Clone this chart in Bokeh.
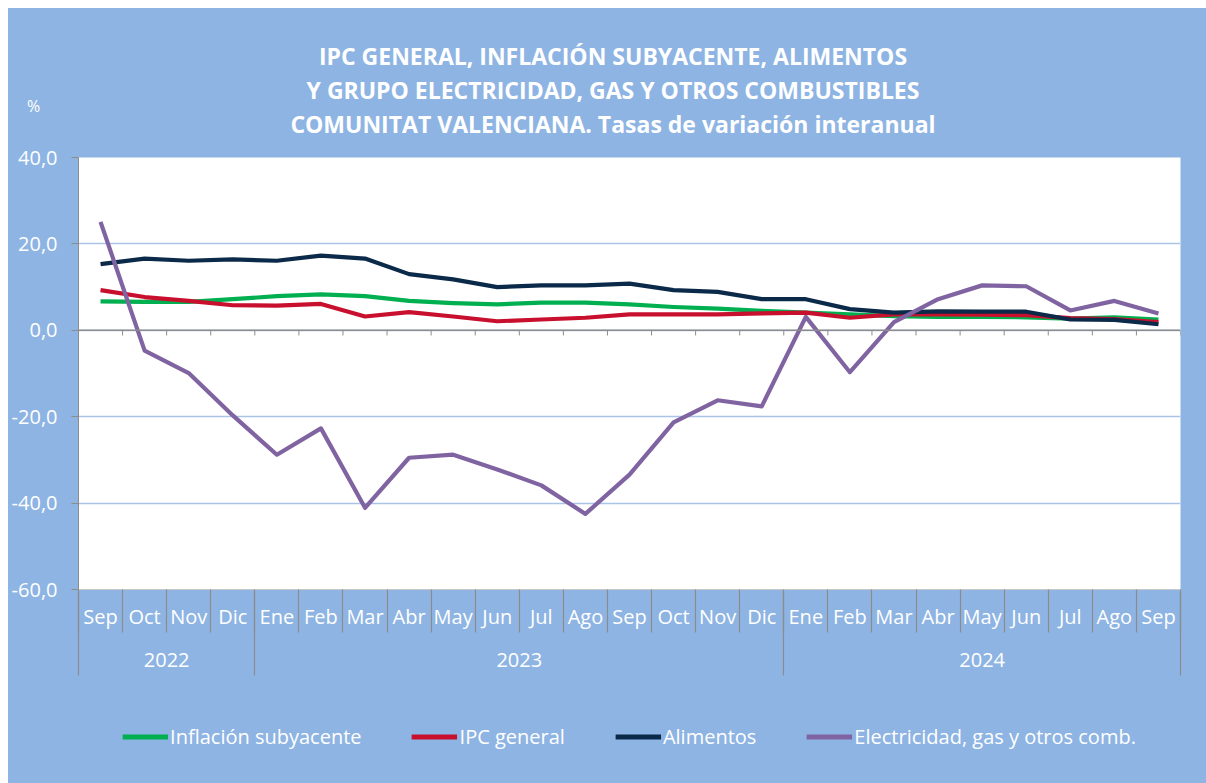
from bokeh.plotting import figure
from bokeh.layouts import column
from bokeh.models import (Range1d, LinearAxis, FixedTicker, Legend, LegendItem, Span, Div)
from bokeh.embed import file_html
from bokeh.resources import INLINE

# ---------------- data ----------------
months = ["Sep", "Oct", "Nov", "Dic", "Ene", "Feb", "Mar", "Abr", "May", "Jun", "Jul", "Ago",
          "Sep", "Oct", "Nov", "Dic", "Ene", "Feb", "Mar", "Abr", "May", "Jun", "Jul", "Ago", "Sep"]
years = ["2022"] * 4 + ["2023"] * 12 + ["2024"] * 9

subyacente = [6.7, 6.6, 6.6, 7.2, 7.9, 8.3, 7.9, 6.8, 6.3, 6.0, 6.4, 6.4,
              6.0, 5.4, 5.0, 4.5, 4.1, 3.7, 3.3, 3.1, 3.1, 3.0, 2.7, 3.0, 2.5]
ipc_general = [9.3, 7.7, 6.8, 5.8, 5.7, 6.1, 3.2, 4.2, 3.2, 2.1, 2.5, 2.9,
               3.7, 3.7, 3.7, 3.9, 4.1, 2.9, 3.7, 3.7, 3.6, 3.5, 2.8, 2.6, 1.9]
alimentos = [15.3, 16.6, 16.1, 16.4, 16.1, 17.3, 16.6, 13.0, 11.8, 10.0, 10.4, 10.4,
             10.8, 9.3, 8.9, 7.2, 7.2, 4.9, 4.1, 4.4, 4.3, 4.3, 2.5, 2.4, 1.4]
electricidad = [25.1, -4.7, -9.9, -19.7, -28.8, -22.7, -41.1, -29.5, -28.8, -32.2, -35.9, -42.5,
                -33.4, -21.3, -16.2, -17.6, 3.1, -9.7, 1.9, 7.2, 10.4, 10.2, 4.6, 6.8, 3.9]

series_names = ["Inflación subyacente", "IPC general", "Alimentos", "Electricidad, gas y otros comb."]
series_values = [subyacente, ipc_general, alimentos, electricidad]
series_colors = ["#00B050", "#C8102E", "#0B2A4A", "#8064A2"]

y_ticks = [-60, -40, -20, 0, 20, 40]
title_lines = ["IPC GENERAL, INFLACIÓN SUBYACENTE, ALIMENTOS",
               "Y GRUPO ELECTRICIDAD, GAS Y OTROS COMBUSTIBLES",
               "COMUNITAT VALENCIANA. Tasas de variación interanual"]
unit_label = "%"

# ---------------- styling ----------------
BG = "#8EB4E3"
GRID = "#A9C4E6"
AXIS_GRAY = "#8C8C8C"
FONT = "Open Sans"
W = 1198
HEADER_H = 134
MAIN_H = 539
LEG_H = 775 - HEADER_H - MAIN_H

n = len(months)
xs = list(range(n))
boundaries = [i - 0.5 for i in range(n + 1)]

# ---------------- header (title + unit) ----------------
header_html = (
    f'<div style="position:relative;width:{W}px;height:{HEADER_H}px;background:{BG};'
    f'font-family:\'{FONT}\';color:white;">'
    f'<div style="position:absolute;left:6px;top:31px;width:{W}px;text-align:center;'
    f'font-size:23px;font-weight:bold;line-height:34px;white-space:nowrap;">'
    + "<br>".join(title_lines) +
    '</div>'
    f'<div style="position:absolute;left:19px;top:89px;font-size:16px;line-height:19px;">'
    f'{unit_label}</div>'
    '</div>'
)
header = Div(text=header_html, width=W, height=HEADER_H, margin=(0, 0, 0, 0),
             styles={"background-color": BG})

# ---------------- main figure ----------------
p = figure(width=W, height=MAIN_H, output_backend="svg", toolbar_location=None,
           x_range=Range1d(-0.5, n - 0.5), y_range=Range1d(-60, 40),
           x_axis_location=None,
           min_border_left=69, min_border_right=26, min_border_top=15, min_border_bottom=0)
p.margin = (0, 0, 0, 0)
p.border_fill_color = BG
p.background_fill_color = "white"
p.outline_line_color = None

# y axis
yax = p.yaxis[0]
yax.ticker = FixedTicker(ticks=y_ticks)
yax.major_label_overrides = {t: f"{t:.1f}".replace(".", ",") for t in y_ticks}
yax.major_label_text_color = "white"
yax.major_label_text_font = FONT
yax.major_label_text_font_size = "20px"
yax.major_label_standoff = 14
yax.major_tick_out = 7
yax.major_tick_in = 0
yax.minor_tick_line_color = None
yax.axis_line_color = AXIS_GRAY
yax.major_tick_line_color = AXIS_GRAY

p.ygrid.ticker = FixedTicker(ticks=y_ticks)
p.ygrid.grid_line_color = GRID
p.ygrid.grid_line_width = 1.5
for g in p.xgrid:
    g.visible = False

# month axis
mon_ax = LinearAxis(ticker=FixedTicker(ticks=xs, minor_ticks=boundaries))
mon_ax.major_label_overrides = {i: m for i, m in enumerate(months)}
mon_ax.major_label_text_color = "white"
mon_ax.major_label_text_font = FONT
mon_ax.major_label_text_font_size = "20px"
mon_ax.major_label_standoff = -30
mon_ax.major_tick_out = 0
mon_ax.major_tick_in = 0
mon_ax.minor_tick_out = 43
mon_ax.minor_tick_in = 0
mon_ax.minor_tick_line_color = AXIS_GRAY
mon_ax.minor_tick_line_width = 1.2
mon_ax.axis_line_color = "#C8C8C8"
p.add_layout(mon_ax, "below")

# year axis
year_names = []
year_centers = []
year_bounds = [-0.5]
for i, y in enumerate(years):
    if not year_names or year_names[-1] != y:
        if year_names:
            year_bounds.append(i - 0.5)
        year_names.append(y)
year_bounds.append(n - 0.5)
for k in range(len(year_names)):
    year_centers.append((year_bounds[k] + year_bounds[k + 1]) / 2)

yr_ax = LinearAxis(ticker=FixedTicker(ticks=year_centers, minor_ticks=year_bounds))
yr_ax.major_label_overrides = {c: y for c, y in zip(year_centers, year_names)}
yr_ax.major_label_text_color = "white"
yr_ax.major_label_text_font = FONT
yr_ax.major_label_text_font_size = "20px"
yr_ax.major_label_standoff = -23
yr_ax.major_tick_out = 0
yr_ax.major_tick_in = 0
yr_ax.minor_tick_in = 41
yr_ax.minor_tick_out = 43
yr_ax.minor_tick_line_color = AXIS_GRAY
yr_ax.minor_tick_line_width = 1.2
yr_ax.axis_line_color = None
yr_ax.axis_label = " "
yr_ax.axis_label_text_font_size = "8px"
yr_ax.axis_label_standoff = 0
p.add_layout(yr_ax, "below")

# zero axis line with small boundary ticks
p.add_layout(Span(location=0, dimension="width", line_color=AXIS_GRAY, line_width=1.5))
p.segment(x0=boundaries, y0=[0] * len(boundaries), x1=boundaries, y1=[-1.2] * len(boundaries),
          line_color=AXIS_GRAY, line_width=1)

# series
for name, vals, col in zip(series_names, series_values, series_colors):
    p.line(xs, vals, line_color=col, line_width=4.2, line_join="round")

# ---------------- legend strip ----------------
# same series drawn into a strip whose ranges keep them out of view; only the legend shows
lg = figure(width=W, height=LEG_H, output_backend="svg", toolbar_location=None,
            x_axis_location=None, y_axis_location=None,
            x_range=Range1d(-0.5, n - 0.5), y_range=Range1d(1000, 1001),
            min_border_left=69, min_border_right=26, min_border_top=8, min_border_bottom=0)
lg.margin = (0, 0, 0, 0)
lg.border_fill_color = BG
lg.background_fill_color = BG
lg.outline_line_color = None
lg.grid.visible = False

items = []
for name, vals, col in zip(series_names, series_values, series_colors):
    proxy = lg.line(xs, vals, line_color=col, line_width=5)
    items.append(LegendItem(label=name, renderers=[proxy]))

legend = Legend(items=items, orientation="horizontal", location="center",
                background_fill_alpha=0, border_line_color=None,
                label_text_color="white", label_text_font=FONT, label_text_font_size="20px",
                glyph_width=46, glyph_height=20, label_standoff=2, spacing=50,
                padding=0, margin=0)
lg.add_layout(legend, "center")

layout = column(header, p, lg, spacing=0, margin=(8, 0, 0, 8),
                styles={"background-color": BG})
open("out.html", "w").write(file_html(layout, INLINE))
